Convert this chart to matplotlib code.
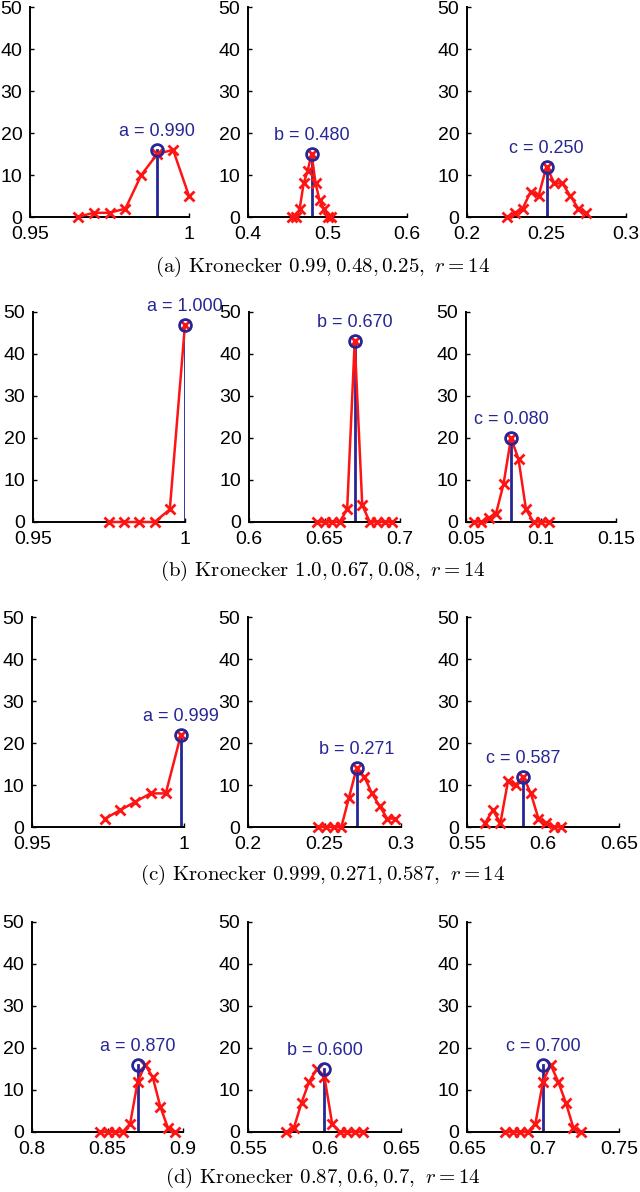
import matplotlib
matplotlib.use("Agg")
import matplotlib.pyplot as plt

plt.rcParams['font.family'] = ['Liberation Sans', 'DejaVu Sans']
plt.rcParams['mathtext.fontset'] = 'cm'

# histogram grids / counts, one row per Kronecker setting
a_x1 = [0.965, 0.970, 0.975, 0.980, 0.985, 0.990, 0.995, 1.000]
a_y1 = [0, 1, 1, 2, 10, 15, 16, 5]
a_x2 = [0.455, 0.460, 0.465, 0.470, 0.475, 0.480, 0.485, 0.490, 0.495, 0.500, 0.505]
a_y2 = [0, 0, 2, 8, 11, 15, 8, 4, 2, 0, 0]
a_x3 = [0.225, 0.230, 0.235, 0.240, 0.245, 0.250, 0.255, 0.260, 0.265, 0.270, 0.275]
a_y3 = [0, 1, 2, 6, 5, 12, 8, 8, 5, 2, 1]

b_x1 = [0.975, 0.980, 0.985, 0.990, 0.995, 1.000]
b_y1 = [0, 0, 0, 0, 3, 47]
b_x2 = [0.645, 0.650, 0.655, 0.660, 0.665, 0.670, 0.675, 0.680, 0.685, 0.690, 0.695]
b_y2 = [0, 0, 0, 0, 3, 43, 4, 0, 0, 0, 0]
b_x3 = [0.055, 0.060, 0.065, 0.070, 0.075, 0.080, 0.085, 0.090, 0.095, 0.100, 0.105]
b_y3 = [0, 0, 1, 2, 9, 20, 15, 3, 0, 0, 0]

c_x1 = [0.974, 0.979, 0.984, 0.989, 0.994, 0.999]
c_y1 = [2, 4, 6, 8, 8, 22]
c_x2 = [0.246, 0.251, 0.256, 0.261, 0.266, 0.271, 0.276, 0.281, 0.286, 0.291, 0.296]
c_y2 = [0, 0, 0, 0, 7, 14, 12, 8, 5, 2, 2]
c_x3 = [0.562, 0.567, 0.572, 0.577, 0.582, 0.587, 0.592, 0.597, 0.602, 0.607, 0.612]
c_y3 = [1, 4, 1, 11, 10, 12, 8, 2, 1, 0, 0]

d_x1 = [0.845, 0.850, 0.855, 0.860, 0.865, 0.870, 0.875, 0.880, 0.885, 0.890, 0.895]
d_y1 = [0, 0, 0, 0, 2, 12, 16, 13, 6, 1, 0]
d_x2 = [0.575, 0.580, 0.585, 0.590, 0.595, 0.600, 0.605, 0.610, 0.615, 0.620, 0.625]
d_y2 = [0, 1, 7, 12, 15, 13, 2, 0, 0, 0, 0]
d_x3 = [0.675, 0.680, 0.685, 0.690, 0.695, 0.700, 0.705, 0.710, 0.715, 0.720, 0.725]
d_y3 = [0, 0, 0, 0, 2, 12, 16, 12, 7, 1, 0]

true_vals = [[0.99, 0.48, 0.25], [1.0, 0.67, 0.08], [0.999, 0.271, 0.587], [0.87, 0.6, 0.7]]
param_names = ['a', 'b', 'c']
xlims = [[(0.95, 1.0), (0.4, 0.6), (0.2, 0.3)],
         [(0.95, 1.0), (0.6, 0.7), (0.05, 0.15)],
         [(0.95, 1.0), (0.2, 0.3), (0.55, 0.65)],
         [(0.8, 0.9), (0.55, 0.65), (0.65, 0.75)]]
xticks = [[[0.95, 1], [0.4, 0.5, 0.6], [0.2, 0.25, 0.3]],
          [[0.95, 1], [0.6, 0.65, 0.7], [0.05, 0.1, 0.15]],
          [[0.95, 1], [0.2, 0.25, 0.3], [0.55, 0.6, 0.65]],
          [[0.8, 0.85, 0.9], [0.55, 0.6, 0.65], [0.65, 0.7, 0.75]]]
captions = [r"(a) Kronecker $0.99, 0.48, 0.25,$ $r = 14$",
            r"(b) Kronecker $1.0, 0.67, 0.08,$ $r = 14$",
            r"(c) Kronecker $0.999, 0.271, 0.587,$ $r = 14$",
            r"(d) Kronecker $0.87, 0.6, 0.7,$ $r = 14$"]

series = [[(a_x1, a_y1), (a_x2, a_y2), (a_x3, a_y3)],
          [(b_x1, b_y1), (b_x2, b_y2), (b_x3, b_y3)],
          [(c_x1, c_y1), (c_x2, c_y2), (c_x3, c_y3)],
          [(d_x1, d_y1), (d_x2, d_y2), (d_x3, d_y3)]]

W, H = 640, 1192
RED = '#ff1414'
BLUE = '#262696'

fig = plt.figure(figsize=(W / 100, H / 100), dpi=100)

# axes boxes in pixels (left, right) per row; first row is a bit wider
row_cols = [[(30, 189), (248, 407), (467, 626)],
            [(33, 185), (249, 400), (466, 616)],
            [(32, 184), (248, 401), (467, 619)],
            [(32, 183), (248, 401), (467, 619)]]
row_top = [7, 312, 617, 922]
ax_h = 210
caption_y = [267, 571, 875, 1178]


def fmt_tick(v):
    return ('%.2f' % v).rstrip('0').rstrip('.')


for r in range(4):
    for c in range(3):
        x0, x1 = row_cols[r][c]
        bottom = 1 - (row_top[r] + ax_h) / H
        ax = fig.add_axes([x0 / W, bottom, (x1 - x0) / W, ax_h / H])
        xs, ys = series[r][c]
        tv = true_vals[r][c]
        peak = max(ys)

        ax.plot(xs, ys, '-x', color=RED, lw=1.8, ms=6.5, mew=2, zorder=3, clip_on=False)
        ax.plot([tv, tv], [0, peak], '-', color=BLUE, lw=2.0, zorder=2)
        ax.plot([tv], [peak], 'o', mfc='none', mec=BLUE, ms=8.5, mew=2, zorder=4, clip_on=False)
        ax.text(tv, peak + 2.4, '%s = %.3f' % (param_names[c], tv), color=BLUE,
                ha='center', va='bottom', fontsize=13)

        ax.set_xlim(*xlims[r][c])
        ax.set_ylim(0, 50)
        ax.set_xticks(xticks[r][c])
        ax.set_xticklabels([fmt_tick(v) for v in xticks[r][c]])
        ax.set_yticks([0, 10, 20, 30, 40, 50])
        ax.spines['top'].set_visible(False)
        ax.spines['right'].set_visible(False)
        for sp in ('left', 'bottom'):
            ax.spines[sp].set_linewidth(1.4)
        ax.tick_params(direction='in', length=3, width=1, labelsize=14)
        ax.tick_params(axis='x', pad=6.5)
        ax.tick_params(axis='y', pad=5.5)
        ax.patch.set_alpha(0)

    fig.text(323 / W, 1 - caption_y[r] / H, captions[r], ha='center', va='center',
             fontsize=15, family='cmr10')

fig.savefig('out.png', dpi=100)
